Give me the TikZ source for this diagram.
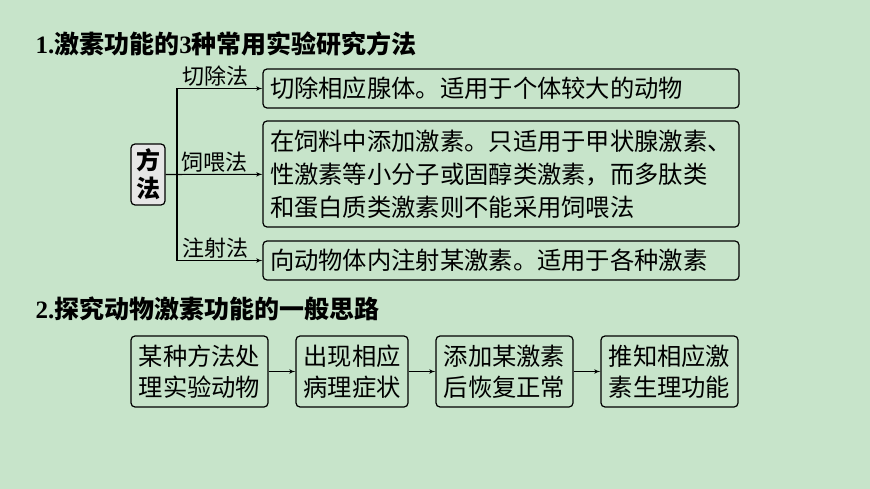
\documentclass[tikz,border=0pt]{standalone}
\usepackage{fontspec}
\setmainfont{Noto Sans CJK SC}
\newfontfamily\numfont{Liberation Serif}
\usepackage{tikz}
\usetikzlibrary{positioning,arrows}
\definecolor{bggreen}{RGB}{199,228,202}
\definecolor{boxgray}{RGB}{230,230,230}

\begin{document}
\begin{tikzpicture}[x=1pt,y=-1pt,line width=1.1pt,>=latex',
                       title node/.style={anchor=base west,inner sep=0pt,
                                          font=\fontsize{25}{30}\selectfont\bfseries},
                       text box/.style={draw,rounded corners=4pt,line width=1.2pt,align=left,
                                        inner xsep=7pt,inner ysep=0pt,text width=462pt,
                                        font=\fontsize{24.3}{33}\selectfont},
                       method node/.style={draw,rounded corners=4pt,fill=boxgray,line width=1.2pt,
                                           align=center,inner sep=0pt,minimum width=34pt,
                                           minimum height=61pt,font=\fontsize{24}{28}\selectfont\bfseries},
                       method label/.style={above,inner sep=1.5pt,font=\fontsize{22}{26}\selectfont},
                       step box/.style={draw,rounded corners=4pt,line width=1.2pt,align=center,
                                        inner sep=0pt,minimum height=71pt,
                                        font=\fontsize{24.3}{31}\selectfont}
                      ]
   \fill[bggreen] (0,0) rectangle (870,489);
   \useasboundingbox (0,0) rectangle (870,489);

   % part 1
   \node[title node] (t1) at (35,53.5) {{\numfont 1.}激素功能的{\numfont 3}种常用实验研究方法};
   \node[method node] (fa) at (148,174.5) {方\\法};
   \node[text box,minimum height=39pt] (cut) at (501,88.5) {切除相应腺体。适用于个体较大的动物};
   \node[text box,minimum height=106pt] (feed) at (501,174) {在饲料中添加激素。只适用于甲状腺激素、\\
      性激素等小分子或固醇类激素，而多肽类\\和蛋白质类激素则不能采用饲喂法};
   \node[text box,minimum height=39pt] (inject) at (501,260.5) {向动物体内注射某激素。适用于各种激素};
   \coordinate (fork) at (177,174.5);

   \draw[->] (fa) -- node[method label] {饲喂法} (feed);
   \draw[->] (fork) |- node[method label,pos=0.724] {切除法} (cut);
   \draw[->] (fork) |- node[method label,pos=0.724] {注射法} (inject);

   % part 2
   \node[title node] (t2) at (35,318) {{\numfont 2.}探究动物激素功能的一般思路};
   \node[step box,minimum width=137pt] (sa) at (199.5,371.5) {某种方法处\\理实验动物};
   \node[step box,minimum width=112pt] (sb) at (352,371.5) {出现相应\\病理症状};
   \node[step box,minimum width=137pt] (sc) at (504.5,371.5) {添加某激素\\后恢复正常};
   \node[step box,minimum width=137pt] (sd) at (669.5,371.5) {推知相应激\\素生理功能};

   \path[->]%
    (sa) edge (sb)
    (sb) edge (sc)
    (sc) edge (sd);
  \end{tikzpicture}
\end{document}
